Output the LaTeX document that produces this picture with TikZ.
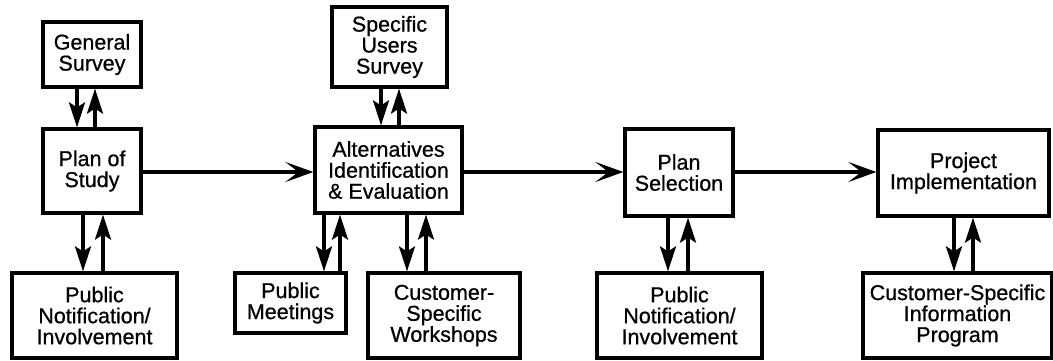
\documentclass[tikz,border=0pt]{standalone}
\usepackage{fontspec}
\setmainfont{Liberation Sans}
\newfontfamily\hvfont{Liberation Sans}[FakeBold=0.7]
\usetikzlibrary{arrows.meta}
\begin{document}
\begin{tikzpicture}[x=1pt,y=-1pt,
  box/.style={draw,line width=3.2pt,align=center,inner sep=0pt,
    font=\hvfont\fontsize{21.5}{21}\selectfont},
  varr/.style={line width=3.2pt,-{Stealth[length=25pt,width=16pt,inset=5pt]}},
  harr/.style={line width=3.2pt,-{Stealth[length=28pt,width=20pt,inset=13pt]}}]
\useasboundingbox (0,0) rectangle (1053,360);
% boxes
\node[box,minimum width=98pt,minimum height=65pt] (gs) at (92,54.5) {General\\Survey};
\node[box,minimum width=98pt,minimum height=84pt] (pos) at (92,171) {Plan of\\Study};
\node[box,minimum width=165pt,minimum height=85pt] (pn1) at (94.5,315.5) {Public\\Notification/\\Involvement};
\node[box,minimum width=115pt,minimum height=80pt] (sus) at (389.5,47) {Specific\\Users\\Survey};
\node[box,minimum width=147pt,minimum height=86pt] (alt) at (388.5,170) {Alternatives\\Identification\\\&~Evaluation};
\node[box,minimum width=111pt,minimum height=60pt] (pm) at (290.5,303) {Public\\Meetings};
\node[box,minimum width=152pt,minimum height=85pt] (csw) at (444,315.5) {Customer-\\Specific\\Workshops};
\node[box,minimum width=108pt,minimum height=87pt] (ps) at (679,172.5) {Plan\\Selection};
\node[box,minimum width=165pt,minimum height=85pt] (pn2) at (679.5,315.5) {Public\\Notification/\\Involvement};
\node[box,minimum width=171pt,minimum height=86pt] (pi) at (963.5,173) {Project\\Implementation};
\node[box,minimum width=189pt,minimum height=85pt] (csip) at (957.5,315.5) {Customer-Specific\\Information\\Program};
% x positions of vertical arrows
\coordinate (d1) at (77,0);  \coordinate (u1) at (95,0);
\coordinate (d2) at (83,0);  \coordinate (u2) at (103,0);
\coordinate (d3) at (381,0); \coordinate (u3) at (399,0);
\coordinate (d4) at (324,0); \coordinate (u4) at (340,0);
\coordinate (d5) at (407,0); \coordinate (u5) at (426,0);
\coordinate (d6) at (668,0); \coordinate (u6) at (688,0);
\coordinate (d7) at (954,0); \coordinate (u7) at (973,0);
\coordinate (hy) at (0,172);
% vertical arrows
\draw[varr] (gs.south -| d1) -- (pos.north -| d1);
\draw[varr] (pos.north -| u1) -- (gs.south -| u1);
\draw[varr] (pos.south -| d2) -- (pn1.north -| d2);
\draw[varr] (pn1.north -| u2) -- (pos.south -| u2);
\draw[varr] (sus.south -| d3) -- (alt.north -| d3);
\draw[varr] (alt.north -| u3) -- (sus.south -| u3);
\draw[varr] (alt.south -| d4) -- (pm.north -| d4);
\draw[varr] (pm.north -| u4) -- (alt.south -| u4);
\draw[varr] (alt.south -| d5) -- (csw.north -| d5);
\draw[varr] (csw.north -| u5) -- (alt.south -| u5);
\draw[varr] (ps.south -| d6) -- (pn2.north -| d6);
\draw[varr] (pn2.north -| u6) -- (ps.south -| u6);
\draw[varr] (pi.south -| d7) -- (csip.north -| d7);
\draw[varr] (csip.north -| u7) -- (pi.south -| u7);
% main flow
\draw[harr] (pos.east |- hy) -- (alt.west |- hy);
\draw[harr] (alt.east |- hy) -- (ps.west |- hy);
\draw[harr] (ps.east |- hy) -- (pi.west |- hy);
\end{tikzpicture}
\end{document}
